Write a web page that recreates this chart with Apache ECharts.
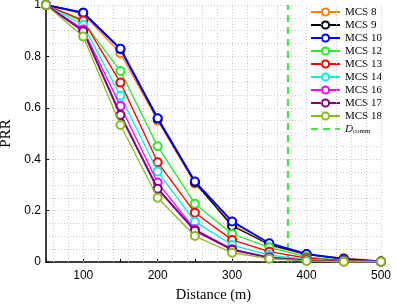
<!DOCTYPE html>
<html><head><meta charset="utf-8">
<script src="https://cdn.jsdelivr.net/npm/echarts@6/dist/echarts.min.js"></script>
<style>html,body{margin:0;padding:0;background:#fff}#c{width:396px;height:305px}</style>
</head><body><div id="c"></div>
<script>
const distances = [50,100,150,200,250,300,350,400,450,500];
const seriesNames = ['MCS 8','MCS 9','MCS 10','MCS 12','MCS 13','MCS 14','MCS 16','MCS 17','MCS 18'];
const mcs8  = [1,0.965,0.812,0.550,0.305,0.148,0.065,0.028,0.016,0.003];
const mcs9  = [1,0.970,0.828,0.557,0.310,0.140,0.068,0.030,0.012,0.002];
const mcs10 = [1,0.970,0.830,0.559,0.313,0.158,0.073,0.031,0.012,0.002];
const mcs12 = [1,0.935,0.743,0.450,0.227,0.109,0.057,0.020,0.006,0.001];
const mcs13 = [1,0.940,0.698,0.388,0.192,0.086,0.040,0.015,0.005,0.001];
const mcs14 = [1,0.922,0.647,0.352,0.157,0.066,0.027,0.010,0.003,0.001];
const mcs16 = [1,0.905,0.607,0.309,0.127,0.050,0.018,0.007,0.002,0.001];
const mcs17 = [1,0.898,0.572,0.285,0.122,0.048,0.017,0.006,0.002,0.001];
const mcs18 = [1,0.877,0.533,0.250,0.101,0.036,0.013,0.004,0.001,0.001];
const dComm = 375;
const xTickLabels = [100,200,300,400,500];
const gridX = [60,80,100,120,140,160,180,200,220,240,260,280,300,320,340,360,380,400,420,440,460,480,500];

const values = [mcs8,mcs9,mcs10,mcs12,mcs13,mcs14,mcs16,mcs17,mcs18];
const colors = ['#FF8000','#000000','#0000FF','#22EE22','#FF0000','#00F0F0','#FF00FF','#800080','#88BB22'];
const widths = [1.3,1.3,2,1.3,1.3,1.3,1.3,2,1.3];

const chart = echarts.init(document.getElementById('c'));
const series = values.map((v,i)=>({
  name: seriesNames[i], type:'line',
  data: distances.map((d,j)=>[d,v[j]]),
  symbol:'emptyCircle', symbolSize:8,
  itemStyle:{color:colors[i], borderWidth:1.3},
  lineStyle:{color:colors[i], width:widths[i]},
  emphasis:{disabled:true}, z: 3+i
}));
series.unshift({
  name:'grid', type:'line', data:[[50,1]], symbol:'none', showSymbol:false, silent:true, z:1,
  lineStyle:{width:0},
  markLine:{silent:true, symbol:'none', label:{show:false}, animation:false,
    lineStyle:{color:'#c8c8c8', type:[1,2], width:1},
    emphasis:{disabled:true},
    data: gridX.map(x=>({xAxis:x}))}
});
series.push({
  name:'Dcomm', type:'line', data:[[dComm,0],[dComm,1]], symbol:'none', showSymbol:false,
  lineStyle:{color:'#33EE33', width:2, type:[7,5]}, itemStyle:{color:'#33EE33'}, z:2
});

chart.setOption({
  animation:false,
  grid:{left:46, right:15, top:5, bottom:43, outerBoundsMode:'none', containLabel:false},
  xAxis:{type:'value', min:50, max:500, interval:50,
    axisLine:{lineStyle:{color:'#000', width:1.5}},
    axisTick:{inside:true, length:3, interval:(i,v)=>xTickLabels.indexOf(v)>=0, lineStyle:{color:'#000'}},
    axisLabel:{color:'#000', fontFamily:'Liberation Sans', fontSize:12, margin:8,
      formatter:v=>xTickLabels.indexOf(v)>=0?String(v):''},
    splitLine:{show:false},
    name:'Distance (m)', nameLocation:'middle', nameGap:26,
    nameTextStyle:{color:'#000', fontFamily:'Liberation Serif', fontSize:14.5}
  },
  yAxis:{type:'value', min:0, max:1, interval:0.2,
    axisLine:{show:true, lineStyle:{color:'#000', width:1.5}},
    axisTick:{show:true, inside:true, length:3, lineStyle:{color:'#000'}},
    axisLabel:{color:'#000', fontFamily:'Liberation Sans', fontSize:12, margin:5,
      formatter:v=>String(Math.round(v*10)/10)},
    splitLine:{show:true, lineStyle:{color:'#c8c8c8', type:[1,2]}},
    minorTick:{show:false, splitNumber:4},
    minorSplitLine:{show:true, lineStyle:{color:'#c8c8c8', type:[1,2]}},
    name:'PRR', nameLocation:'middle', nameGap:25, nameRotate:90,
    nameTextStyle:{color:'#000', fontFamily:'Liberation Serif', fontSize:15}
  },
  legend:{orient:'vertical', left:304, top:3, itemWidth:29, itemHeight:9, itemGap:1,
    padding:[3,4,3,6], backgroundColor:'#fff',
    data: seriesNames.concat([{name:'Dcomm', itemStyle:{opacity:0}}]),
    textStyle:{color:'#000', fontFamily:'Liberation Serif', fontSize:11, lineHeight:12,
      rich:{i:{fontFamily:'Liberation Serif', fontStyle:'italic', fontSize:11, color:'#000'},
            s:{fontFamily:'Liberation Serif', fontSize:7, color:'#000', verticalAlign:'bottom', padding:[5,0,0,0]}}},
    formatter:n=> n==='Dcomm' ? '{i|D}{s|comm}' : n
  },
  series: series
});
</script></body></html>
